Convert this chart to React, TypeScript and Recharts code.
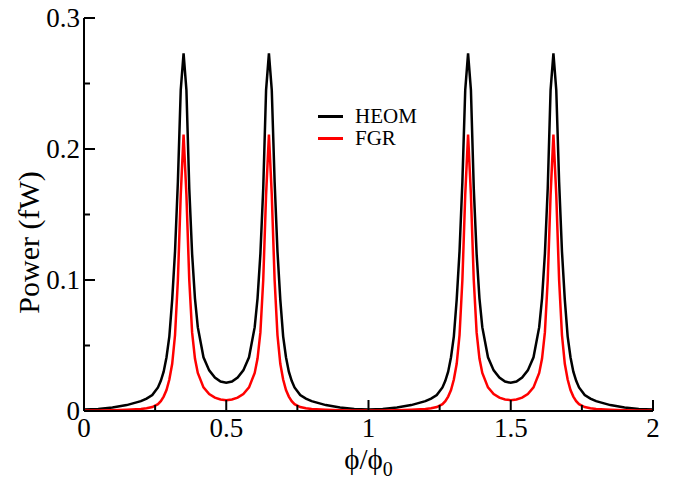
import * as React from 'react';
import { LineChart, Line, XAxis, YAxis } from 'recharts';

// flux ratio samples (denser around the resonances)
const phi = [
  0, 0.05, 0.1, 0.15, 0.2, 0.22, 0.24, 0.26, 0.27, 0.28, 0.29, 0.3, 0.31, 0.32, 0.33, 0.34,
  0.35, 0.36, 0.37, 0.38, 0.39, 0.4, 0.42, 0.44, 0.46, 0.48, 0.5,
  0.52, 0.54, 0.56, 0.58, 0.6, 0.61, 0.62, 0.63, 0.64, 0.65, 0.66, 0.67, 0.68, 0.69, 0.7,
  0.71, 0.72, 0.73, 0.74, 0.76, 0.78, 0.8, 0.85, 0.9, 0.95, 1,
  1.05, 1.1, 1.15, 1.2, 1.22, 1.24, 1.26, 1.27, 1.28, 1.29, 1.3, 1.31, 1.32, 1.33, 1.34,
  1.35, 1.36, 1.37, 1.38, 1.39, 1.4, 1.42, 1.44, 1.46, 1.48, 1.5,
  1.52, 1.54, 1.56, 1.58, 1.6, 1.61, 1.62, 1.63, 1.64, 1.65, 1.66, 1.67, 1.68, 1.69, 1.7,
  1.71, 1.72, 1.73, 1.74, 1.76, 1.78, 1.8, 1.85, 1.9, 1.95, 2
];

const heom = [
  0.0011, 0.0016, 0.0027, 0.0045, 0.0075, 0.0095, 0.0122, 0.018, 0.023, 0.03, 0.041, 0.057, 0.085, 0.122, 0.175, 0.245,
  0.273, 0.245, 0.17, 0.12, 0.086, 0.064, 0.041, 0.031, 0.0255, 0.0225, 0.0215,
  0.0225, 0.0255, 0.031, 0.041, 0.064, 0.086, 0.12, 0.17, 0.245, 0.273, 0.245, 0.175, 0.122, 0.085, 0.057,
  0.041, 0.03, 0.023, 0.018, 0.0122, 0.0095, 0.0075, 0.0045, 0.0027, 0.0016, 0.0011,
  0.0016, 0.0027, 0.0045, 0.0075, 0.0095, 0.0122, 0.018, 0.023, 0.03, 0.041, 0.057, 0.085, 0.122, 0.175, 0.245,
  0.273, 0.245, 0.17, 0.12, 0.086, 0.064, 0.041, 0.031, 0.0255, 0.0225, 0.0215,
  0.0225, 0.0255, 0.031, 0.041, 0.064, 0.086, 0.12, 0.17, 0.245, 0.273, 0.245, 0.175, 0.122, 0.085, 0.057,
  0.041, 0.03, 0.023, 0.018, 0.0122, 0.0095, 0.0075, 0.0045, 0.0027, 0.0016, 0.0011
];

const fgr = [
  0.0003, 0.0004, 0.0006, 0.001, 0.0016, 0.0021, 0.003, 0.0052, 0.0075, 0.011, 0.016, 0.024, 0.036, 0.058, 0.1, 0.165,
  0.211, 0.165, 0.1, 0.06, 0.04, 0.029, 0.018, 0.013, 0.0102, 0.0088, 0.0083,
  0.0088, 0.0102, 0.013, 0.018, 0.029, 0.04, 0.06, 0.1, 0.165, 0.211, 0.165, 0.1, 0.058, 0.036, 0.024,
  0.016, 0.011, 0.0075, 0.0052, 0.003, 0.0021, 0.0016, 0.001, 0.0006, 0.0004, 0.0003,
  0.0004, 0.0006, 0.001, 0.0016, 0.0021, 0.003, 0.0052, 0.0075, 0.011, 0.016, 0.024, 0.036, 0.058, 0.1, 0.165,
  0.211, 0.165, 0.1, 0.06, 0.04, 0.029, 0.018, 0.013, 0.0102, 0.0088, 0.0083,
  0.0088, 0.0102, 0.013, 0.018, 0.029, 0.04, 0.06, 0.1, 0.165, 0.211, 0.165, 0.1, 0.058, 0.036, 0.024,
  0.016, 0.011, 0.0075, 0.0052, 0.003, 0.0021, 0.0016, 0.001, 0.0006, 0.0004, 0.0003
];

const xTicks = [0, 0.25, 0.5, 0.75, 1, 1.25, 1.5, 1.75, 2];
const yTicks = [0, 0.05, 0.1, 0.15, 0.2, 0.25, 0.3];

const data = phi.map((p, i) => ({ phi: p, heom: heom[i], fgr: fgr[i] }));

const FONT = '"Liberation Serif", "Times New Roman", serif';
const MAJOR = 11;
const MINOR = 6;

const isXMajor = (v: number) => Math.abs(v * 2 - Math.round(v * 2)) < 1e-6;
const isYMajor = (v: number) => Math.abs(v * 10 - Math.round(v * 10)) < 1e-6;

const BottomTick = (props: any) => {
  const { x, y, payload } = props;
  const major = isXMajor(payload.value);
  return (
    <g>
      <line x1={x} x2={x} y1={y} y2={y - (major ? MAJOR : MINOR)} stroke="#000" strokeWidth={2} />
      {major && (
        <text x={x} y={y + 26} textAnchor="middle" fontSize={27} fontFamily={FONT} fill="#000">
          {String(payload.value)}
        </text>
      )}
    </g>
  );
};

const TopTick = (props: any) => {
  const { x, y, payload } = props;
  const major = isXMajor(payload.value);
  return <line x1={x} x2={x} y1={y} y2={y + (major ? MAJOR : MINOR)} stroke="#000" strokeWidth={2} />;
};

const LeftTick = (props: any) => {
  const { x, y, payload } = props;
  const major = isYMajor(payload.value);
  return (
    <g>
      <line x1={x} x2={x + (major ? MAJOR : MINOR)} y1={y} y2={y} stroke="#000" strokeWidth={2} />
      {major && (
        <text x={x - 4} y={y} dy="0.35em" textAnchor="end" fontSize={27} fontFamily={FONT} fill="#000">
          {String(payload.value)}
        </text>
      )}
    </g>
  );
};

const RightTick = (props: any) => {
  const { x, y, payload } = props;
  const major = isYMajor(payload.value);
  return <line x1={x} x2={x - (major ? MAJOR : MINOR)} y1={y} y2={y} stroke="#000" strokeWidth={2} />;
};

const XTitle = (props: any) => {
  const { viewBox } = props;
  const cx = viewBox.x + viewBox.width / 2;
  return (
    <text x={cx} y={viewBox.y + 58} textAnchor="middle" fontSize={29} fontFamily={FONT} fill="#000">
      ϕ/ϕ<tspan fontSize={20} dy={7}>0</tspan>
    </text>
  );
};

const YTitle = (props: any) => {
  const { viewBox } = props;
  const cy = viewBox.y + viewBox.height / 2 + 28;
  return (
    <text
      x={28}
      y={cy}
      transform={`rotate(-90 28 ${cy})`}
      textAnchor="middle"
      dy="0.35em"
      fontSize={30}
      fontFamily={FONT}
      fill="#000"
    >
      Power (fW)
    </text>
  );
};

const axisLine = { stroke: '#000', strokeWidth: 2 };

export default function App() {
  return (
    <div style={{ position: 'absolute', left: 0, top: 0, width: 680, height: 481, background: '#fff' }}>
      <LineChart width={680} height={481} data={data} margin={{ top: 18, right: 27, bottom: 0, left: 0 }}>
        <XAxis
          dataKey="phi"
          type="number"
          domain={[0, 2]}
          ticks={xTicks}
          interval={0}
          height={70}
          tickSize={0}
          tickMargin={0}
          tickLine={false}
          axisLine={axisLine}
          tick={<BottomTick />}
          label={<XTitle />}
        />
        <XAxis
          xAxisId="top"
          orientation="top"
          dataKey="phi"
          type="number"
          domain={[0, 2]}
          ticks={xTicks}
          interval={0}
          height={0}
          tickSize={0}
          tickMargin={0}
          tickLine={false}
          axisLine={axisLine}
          tick={<TopTick />}
        />
        <YAxis
          type="number"
          domain={[0, 0.3]}
          ticks={yTicks}
          interval={0}
          width={84}
          tickSize={0}
          tickMargin={0}
          tickLine={false}
          axisLine={axisLine}
          tick={<LeftTick />}
          label={<YTitle />}
        />
        <YAxis
          yAxisId="right"
          orientation="right"
          type="number"
          domain={[0, 0.3]}
          ticks={yTicks}
          interval={0}
          width={0}
          tickSize={0}
          tickMargin={0}
          tickLine={false}
          axisLine={axisLine}
          tick={<RightTick />}
        />
        <Line type="linear" dataKey="heom" stroke="#000" strokeWidth={2.5} dot={false} isAnimationActive={false} />
        <Line type="linear" dataKey="fgr" stroke="#ff0000" strokeWidth={2.5} dot={false} isAnimationActive={false} />
      </LineChart>
      <div
        style={{
          position: 'absolute',
          left: 318,
          top: 105,
          fontFamily: FONT,
          fontSize: 21,
          lineHeight: '22px',
          color: '#000'
        }}
      >
        {[
          { name: 'HEOM', color: '#000' },
          { name: 'FGR', color: '#ff0000' }
        ].map((item) => (
          <div key={item.name} style={{ display: 'flex', alignItems: 'center', height: 22 }}>
            <span style={{ display: 'inline-block', width: 25, height: 3, background: item.color, marginRight: 12 }} />
            <span>{item.name}</span>
          </div>
        ))}
      </div>
    </div>
  );
}
